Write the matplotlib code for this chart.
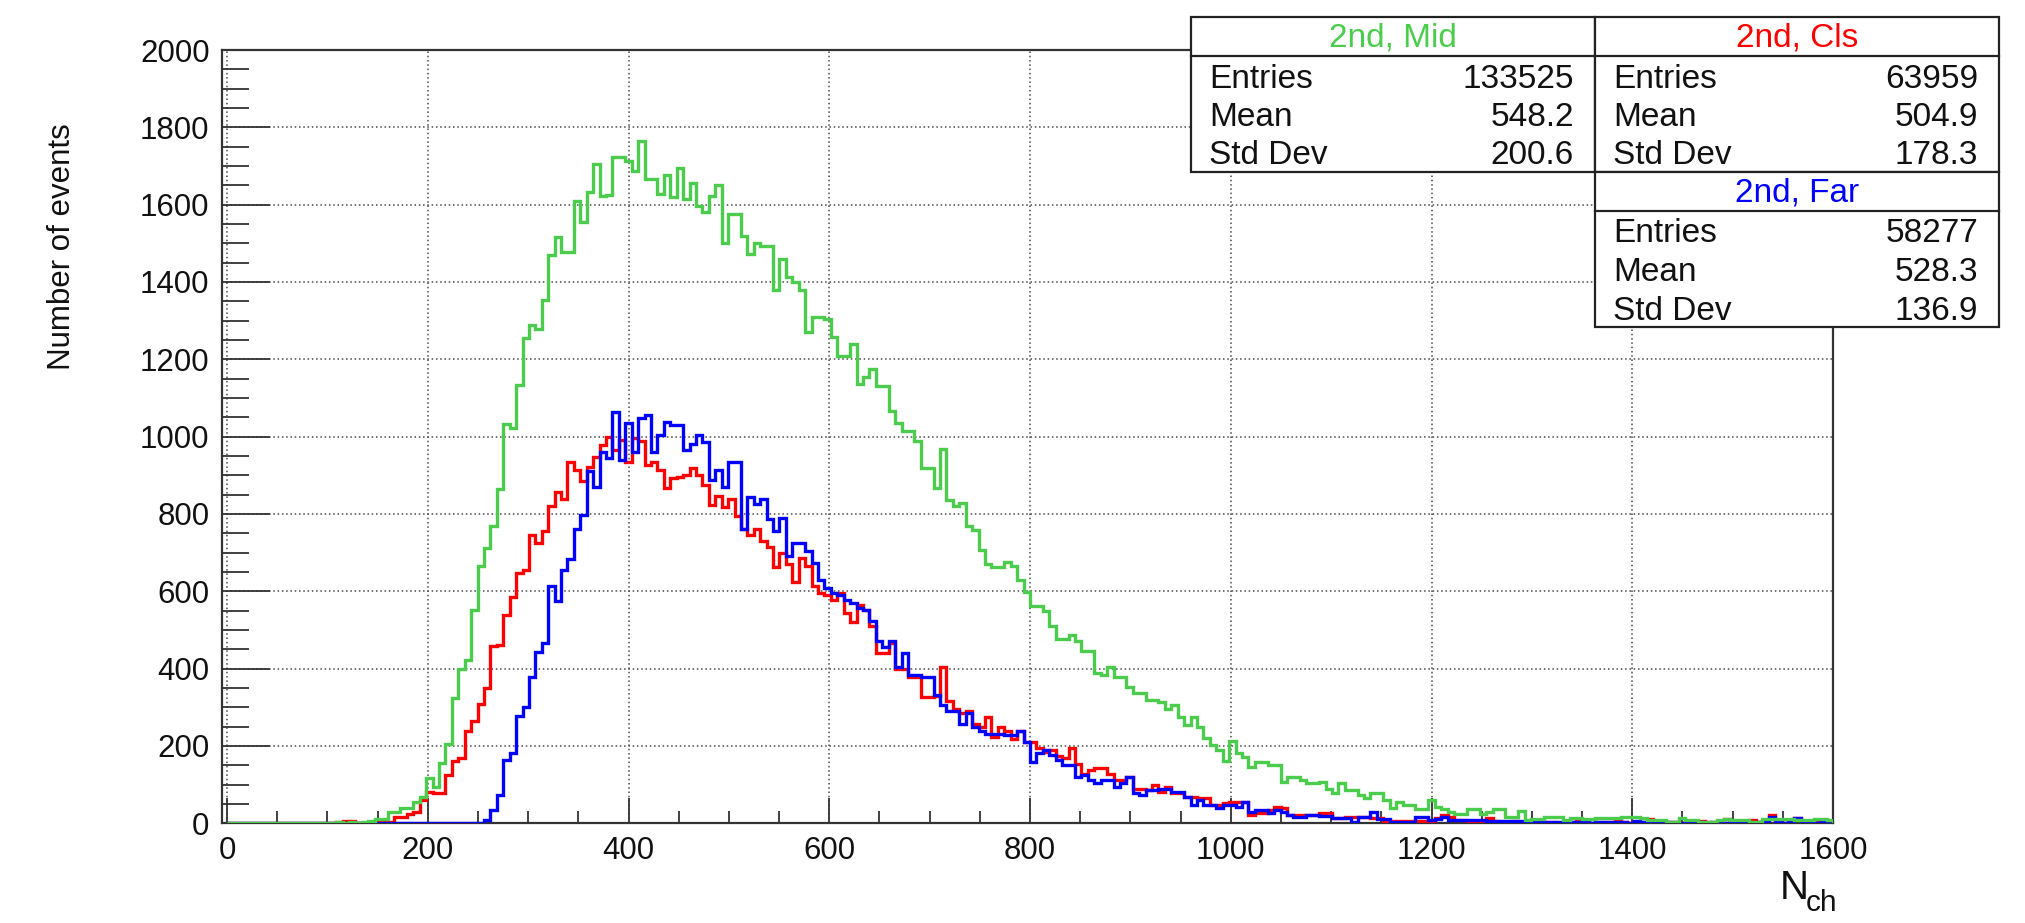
import numpy as np
import matplotlib.pyplot as plt
from matplotlib.ticker import MultipleLocator
from matplotlib.patches import Rectangle
from matplotlib.lines import Line2D

plt.rcParams['font.family'] = ['Liberation Sans', 'DejaVu Sans']

# binning of the three histograms
n_bins = 250
x_lo, x_hi = 0, 1600

# bin contents, 10 bins per row
mid_counts = [
    0, 0, 0, 0, 0, 0, 0, 0, 0, 0,
    0, 0, 0, 0, 0, 0, 2, 3, 0, 3,
    0, 3, 5, 10, 10, 29, 29, 40, 40, 55,
    67, 116, 95, 157, 204, 325, 399, 422, 552, 666,
    711, 768, 864, 1032, 1023, 1134, 1254, 1290, 1278, 1354,
    1469, 1517, 1478, 1478, 1609, 1556, 1632, 1705, 1622, 1625,
    1724, 1724, 1712, 1688, 1765, 1666, 1666, 1627, 1677, 1621,
    1694, 1615, 1656, 1597, 1582, 1623, 1651, 1502, 1576, 1576,
    1518, 1472, 1501, 1494, 1494, 1380, 1459, 1412, 1399, 1380,
    1270, 1310, 1310, 1304, 1259, 1209, 1209, 1239, 1136, 1153,
    1176, 1132, 1132, 1067, 1035, 1015, 1015, 989, 920, 920,
    868, 967, 837, 820, 829, 769, 759, 706, 670, 663,
    663, 675, 665, 628, 597, 561, 561, 550, 509, 477,
    477, 488, 472, 446, 446, 389, 383, 404, 378, 378,
    352, 336, 336, 319, 319, 315, 295, 306, 276, 254,
    276, 250, 220, 202, 190, 162, 214, 181, 172, 146,
    159, 159, 151, 151, 108, 121, 121, 112, 103, 103,
    108, 90, 78, 105, 86, 86, 73, 65, 79, 79,
    60, 39, 56, 47, 47, 36, 36, 60, 42, 37,
    28, 24, 24, 37, 37, 24, 30, 37, 37, 17,
    17, 33, 9, 10, 10, 17, 17, 17, 9, 13,
    13, 11, 11, 15, 15, 15, 15, 16, 16, 17,
    13, 9, 9, 9, 4, 4, 15, 9, 9, 4,
    4, 4, 9, 11, 9, 9, 9, 4, 4, 11,
    11, 11, 11, 11, 9, 9, 9, 11, 11, 9,
]

cls_counts = [
    0, 0, 0, 0, 0, 0, 0, 0, 0, 0,
    0, 0, 0, 0, 0, 0, 0, 3, 6, 6,
    0, 0, 0, 4, 4, 4, 17, 17, 23, 29,
    61, 80, 78, 78, 125, 162, 168, 240, 265, 308,
    350, 458, 462, 539, 585, 647, 654, 745, 724, 755,
    820, 857, 838, 934, 915, 885, 921, 947, 978, 998,
    965, 991, 935, 997, 990, 927, 935, 914, 866, 892,
    896, 901, 918, 901, 876, 822, 847, 818, 838, 794,
    762, 745, 760, 730, 715, 664, 698, 670, 625, 685,
    666, 615, 596, 590, 577, 596, 545, 520, 564, 552,
    510, 441, 441, 467, 399, 399, 378, 378, 326, 326,
    330, 404, 316, 295, 284, 290, 258, 248, 274, 222,
    248, 238, 217, 238, 211, 211, 196, 185, 190, 175,
    170, 196, 154, 128, 139, 144, 144, 128, 113, 113,
    121, 90, 90, 86, 99, 82, 95, 78, 78, 69,
    69, 65, 65, 47, 47, 52, 56, 56, 56, 22,
    26, 26, 34, 43, 39, 22, 22, 22, 22, 22,
    26, 26, 15, 15, 17, 17, 17, 17, 13, 13,
    6, 6, 6, 6, 6, 6, 6, 6, 13, 22,
    17, 8, 8, 6, 6, 6, 15, 6, 4, 4,
    6, 4, 4, 4, 6, 4, 4, 2, 4, 4,
    6, 4, 2, 4, 4, 4, 12, 4, 2, 4,
    4, 12, 4, 2, 4, 4, 2, 4, 4, 6,
    4, 2, 4, 11, 4, 2, 4, 9, 4, 4,
    21, 4, 2, 4, 14, 4, 2, 4, 6, 4,
]

far_counts = [
    0, 0, 0, 0, 0, 0, 0, 0, 0, 0,
    0, 0, 0, 0, 0, 0, 0, 2, 0, 0,
    0, 0, 0, 0, 0, 0, 0, 0, 0, 0,
    0, 0, 0, 0, 0, 0, 0, 0, 0, 0,
    9, 35, 73, 164, 181, 277, 302, 378, 442, 467,
    615, 574, 655, 683, 762, 797, 910, 871, 960, 945,
    1065, 940, 1035, 960, 1047, 1056, 960, 1004, 1038, 1030,
    1030, 966, 982, 1004, 985, 889, 914, 870, 934, 934,
    760, 845, 826, 838, 787, 755, 790, 692, 724, 724,
    705, 673, 628, 609, 596, 590, 577, 571, 558, 552,
    524, 472, 456, 472, 404, 441, 383, 383, 378, 378,
    331, 305, 290, 290, 258, 284, 248, 238, 232, 232,
    232, 228, 228, 238, 211, 159, 181, 190, 177, 164,
    151, 151, 121, 125, 112, 103, 112, 112, 95, 103,
    121, 78, 73, 86, 86, 90, 90, 82, 82, 69,
    47, 60, 47, 47, 39, 47, 47, 43, 56, 30,
    34, 34, 26, 34, 30, 22, 17, 17, 22, 22,
    20, 20, 13, 13, 13, 4, 17, 17, 30, 10,
    10, 4, 4, 4, 4, 16, 16, 8, 10, 17,
    9, 9, 9, 9, 9, 9, 6, 6, 6, 6,
    6, 6, 6, 4, 4, 4, 4, 4, 4, 4,
    4, 4, 2, 4, 4, 4, 4, 4, 2, 6,
    4, 4, 4, 2, 4, 4, 2, 4, 4, 4,
    2, 4, 4, 2, 4, 4, 4, 2, 4, 4,
    17, 4, 2, 4, 14, 4, 4, 2, 4, 4,
]

series_names = ['2nd, Mid', '2nd, Cls', '2nd, Far']
series_colors = ['#4ccc4c', '#ff0000', '#0000ff']
entries = [133525, 63959, 58277]
means = [548.2, 504.9, 528.3]
std_devs = [200.6, 178.3, 136.9]

x_ticks = list(range(0, 1601, 200))
y_ticks = list(range(0, 2001, 200))

# canvas in pixels
W, H = 2025, 923


def fx(x):
    return x / W


def fy(y):
    return 1 - y / H


fig = plt.figure(figsize=(W / 100, H / 100), dpi=100)
fig.patch.set_facecolor('white')
ax = fig.add_axes([fx(222), fy(823.3), (1833 - 222) / W, (823.3 - 50) / H])

edges = np.linspace(x_lo, x_hi, n_bins + 1)
# red, blue, then green on top
for idx in [1, 2, 0]:
    counts = [mid_counts, cls_counts, far_counts][idx]
    ax.stairs(counts, edges, color=series_colors[idx], lw=2.4, baseline=0, zorder=3)

ax.set_xlim(-5, 1600)
ax.set_ylim(0, 2000)
ax.set_xticks(x_ticks)
ax.set_yticks(y_ticks)
ax.xaxis.set_minor_locator(MultipleLocator(50))
ax.yaxis.set_minor_locator(MultipleLocator(50))

ax.grid(True, which='major', color='#4a4a4a', lw=1.1, linestyle=(0, (1, 1.8)), zorder=1)
ax.set_axisbelow(True)

ax.tick_params(axis='both', which='both', direction='in', colors='#333333',
               top=False, right=False, labelcolor='#111111', labelsize=22.5)
ax.tick_params(axis='y', which='major', length=34.5, width=1.3, pad=9)
ax.tick_params(axis='y', which='minor', length=19.5, width=1.3)
ax.tick_params(axis='x', which='major', length=18, width=1.3, pad=9)
ax.tick_params(axis='x', which='minor', length=9, width=1.3)

for side in ['left', 'bottom', 'top', 'right']:
    ax.spines[side].set_color('#333333')
    ax.spines[side].set_linewidth(1.6)

# axis titles, ROOT style
fig.text(fx(62), fy(123), 'Number of events', rotation=90, ha='center', va='top',
         fontsize=22.5, color='#111111')
fig.text(fx(1780), fy(899), 'N', ha='left', va='baseline', fontsize=29, color='#111111')
fig.text(fx(1806), fy(911), 'ch', ha='left', va='baseline', fontsize=21.5, color='#111111')


def draw_stats(x0, x1, top, idx):
    sep = top + 38.5
    bottom = top + 155
    box = Rectangle((fx(x0), fy(bottom)), (x1 - x0) / W, (bottom - top) / H,
                    transform=fig.transFigure, facecolor='white', edgecolor='#222222',
                    lw=1.6, zorder=5)
    fig.add_artist(box)
    fig.add_artist(Line2D([fx(x0), fx(x1)], [fy(sep), fy(sep)], transform=fig.transFigure,
                          color='#222222', lw=1.6, zorder=6))
    fig.text(fx((x0 + x1) / 2), fy(top + 29.5), series_names[idx], color=series_colors[idx],
             ha='center', va='baseline', fontsize=24, zorder=7)
    rows = [('Entries', f'{entries[idx]}'),
            ('Mean', f'{means[idx]:.1f}'),
            ('Std Dev', f'{std_devs[idx]:.1f}')]
    for i, (lab, val) in enumerate(rows):
        yb = sep + 32 + 38.5 * i
        fig.text(fx(x0 + 18), fy(yb), lab, ha='left', va='baseline', fontsize=24,
                 color='#111111', zorder=7)
        fig.text(fx(x1 - 21), fy(yb), val, ha='right', va='baseline', fontsize=24,
                 color='#111111', zorder=7)


draw_stats(1191, 1595, 17, 0)
draw_stats(1595, 1999, 17, 1)
draw_stats(1595, 1999, 172, 2)

fig.savefig('out.png', dpi=100, facecolor='white')
